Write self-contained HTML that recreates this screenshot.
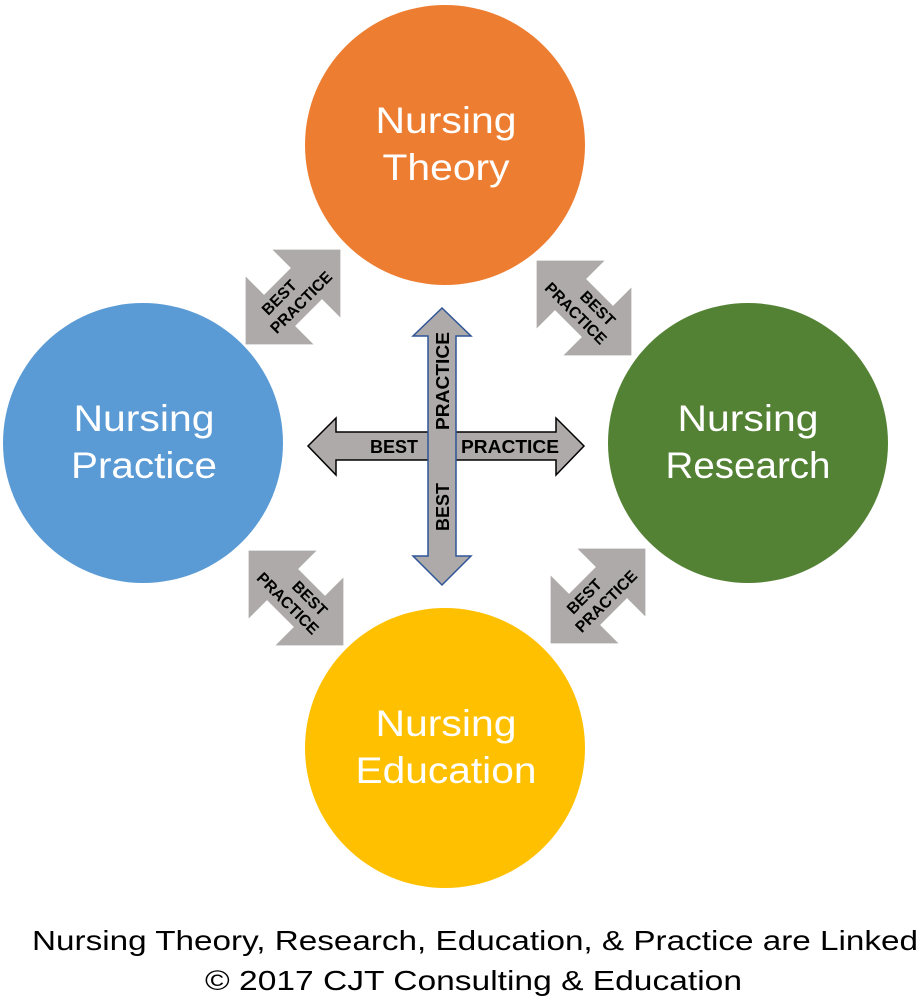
<!DOCTYPE html>
<html><head><meta charset="utf-8"><style>
html,body{margin:0;padding:0;background:#fff;}
svg{display:block;}
.ct{font-family:"Liberation Sans",sans-serif;font-size:37px;fill:#fff;text-anchor:middle;}
.bp{font-family:"Liberation Sans",sans-serif;font-weight:bold;font-size:16px;fill:#000;text-anchor:middle;}
.cx{font-family:"Liberation Sans",sans-serif;font-weight:bold;font-size:18px;fill:#000;}
.cap{font-family:"Liberation Sans",sans-serif;font-size:28px;fill:#000;}
</style></head><body>
<svg width="921" height="1003" viewBox="0 0 921 1003" xmlns="http://www.w3.org/2000/svg">
<defs>
<polygon id="da" points="-67,0 -19,-48 -19,-22 19,-22 19,-48 67,0 19,48 19,22 -19,22 -19,48" fill="#AEAAAA"/>
</defs>
<circle cx="445" cy="145" r="140" fill="#ED7D31"/>
<circle cx="143" cy="443" r="140" fill="#5B9BD5"/>
<circle cx="748" cy="443" r="140" fill="#548235"/>
<circle cx="445" cy="748" r="140" fill="#FFC000"/>

<text class="ct" x="446" y="133" textLength="141" lengthAdjust="spacingAndGlyphs">Nursing</text>
<text class="ct" x="446" y="180" textLength="127" lengthAdjust="spacingAndGlyphs">Theory</text>
<text class="ct" x="144" y="431" textLength="141" lengthAdjust="spacingAndGlyphs">Nursing</text>
<text class="ct" x="144" y="478" textLength="146" lengthAdjust="spacingAndGlyphs">Practice</text>
<text class="ct" x="748" y="431" textLength="141" lengthAdjust="spacingAndGlyphs">Nursing</text>
<text class="ct" x="748" y="478" textLength="165" lengthAdjust="spacingAndGlyphs">Research</text>
<text class="ct" x="446" y="736" textLength="141" lengthAdjust="spacingAndGlyphs">Nursing</text>
<text class="ct" x="446" y="783" textLength="181" lengthAdjust="spacingAndGlyphs">Education</text>

<g transform="translate(293,297) rotate(-45)">
<use href="#da"/>
<text class="bp" x="-10" y="-4" textLength="42" lengthAdjust="spacingAndGlyphs">BEST</text>
<text class="bp" x="2" y="15" textLength="80" lengthAdjust="spacingAndGlyphs">PRACTICE</text>
</g>
<g transform="translate(584,308) rotate(45)">
<use href="#da"/>
<text class="bp" x="10" y="-4" textLength="42" lengthAdjust="spacingAndGlyphs">BEST</text>
<text class="bp" x="-2" y="15" textLength="80" lengthAdjust="spacingAndGlyphs">PRACTICE</text>
</g>
<g transform="translate(296,598) rotate(45)">
<use href="#da"/>
<text class="bp" x="10" y="-4" textLength="42" lengthAdjust="spacingAndGlyphs">BEST</text>
<text class="bp" x="-2" y="15" textLength="80" lengthAdjust="spacingAndGlyphs">PRACTICE</text>
</g>
<g transform="translate(598,596) rotate(-45)">
<use href="#da"/>
<text class="bp" x="-10" y="-4" textLength="42" lengthAdjust="spacingAndGlyphs">BEST</text>
<text class="bp" x="2" y="15" textLength="80" lengthAdjust="spacingAndGlyphs">PRACTICE</text>
</g>

<polygon points="308,446 336,418 336,432 556,432 556,418 584,446 556,475 556,460 336,460 336,475" fill="#AEAAAA" stroke="#000" stroke-width="1.5"/>
<polygon points="442,308 471,336 456,336 456,556 471,556 442,585 413,556 428,556 428,336 413,336" fill="#AEAAAA" stroke="#2F5597" stroke-width="1.5"/>
<text class="cx" x="370" y="453" textLength="48" lengthAdjust="spacingAndGlyphs">BEST</text>
<text class="cx" x="461" y="453" textLength="98" lengthAdjust="spacingAndGlyphs">PRACTICE</text>
<text class="cx" transform="translate(449,430) rotate(-90)" x="0" y="0" textLength="98" lengthAdjust="spacingAndGlyphs">PRACTICE</text>
<text class="cx" transform="translate(449,531) rotate(-90)" x="0" y="0" textLength="48" lengthAdjust="spacingAndGlyphs">BEST</text>

<text class="cap" x="32" y="950" textLength="886" lengthAdjust="spacingAndGlyphs">Nursing Theory, Research, Education, &amp; Practice are Linked</text>
<text class="cap" x="205" y="990" textLength="537" lengthAdjust="spacingAndGlyphs">© 2017 CJT Consulting &amp; Education</text>
</svg>
</body></html>
